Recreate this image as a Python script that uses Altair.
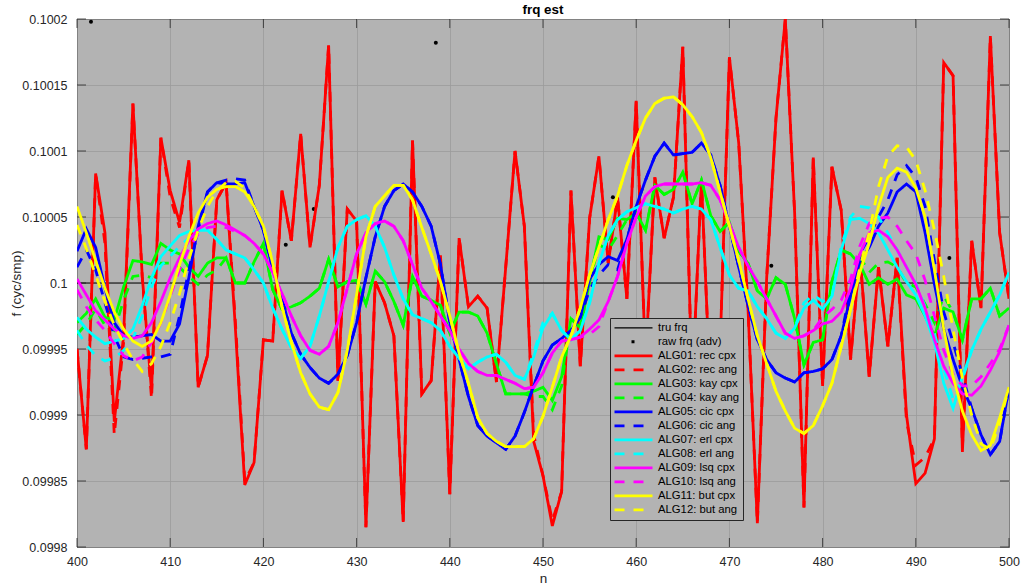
import altair as alt
import pandas as pd

# sample index
n = list(range(400, 501))

# nominal frequency and the unit the estimates are stored in
F_TRUE = 0.1
UNIT = 1e-5  # offsets below are (f - 0.1) / 1e-5

# ALG01 rec cpx
rec_cpx = [
    -5.0, -12.6, 8.3, 3.8, -10.5, -4.0, 13.6, 0.5, -8.2, 11.0,      # 400
    7.0, 4.6, 9.3, -7.9, -5.5, 6.3, 7.6, -3.5, -15.3, -13.6,        # 410
    -4.3, -4.4, 7.0, 3.2, 11.3, 2.7, 7.4, 18.0, -7.4, 5.6,          # 420
    4.7, -18.5, 0.1, -1.5, -4.0, -18.1, 10.8, -8.4, -7.4, 2.1,      # 430
    -16.0, 3.4, -1.8, -1.0, -1.9, -7.5, 1.2, 10.0, 4.3, -12.0,      # 440
    -14.6, -18.4, -15.8, 7.0, -6.3, 4.9, 9.6, 1.5, 6.5, -1.2,       # 450
    13.8, -6.0, 8.0, 3.4, 6.5, 17.9, -8.0, 7.8, -9.0, -5.0,         # 460
    17.1, 10.6, -2.0, -18.2, 0.4, 12.5, 20.0, 5.3, -17.0, 9.5,      # 470
    -7.8, 8.8, 5.5, -5.8, 2.2, -7.1, 1.2, -4.8, 1.9, -10.0,         # 480
    -15.2, -14.4, -11.8, 16.7, 15.7, -12.8, 3.2, -1.9, 18.7, 3.8,   # 490
    -1.2,                                                           # 500
]
# ALG02 rec ang: samples where it departs from ALG01
rec_ang_diff = {403: 3.0, 404: -11.5, 405: -4.5, 408: -8.8, 410: 6.5, 411: 4.2,
                417: -3.0, 418: -15.0, 449: -11.5, 451: -18.0, 489: -10.5,
                490: -13.8, 491: -13.2, 495: -12.5}

# ALG03 kay cpx
kay_cpx = [
    -3.0, -2.3, -1.2, -2.6, -2.8, -0.3, 1.7, 1.6, 1.4, 3.0,
    2.5, 2.2, 1.2, 0.5, 1.5, 1.9, 1.9, 0.0, 0.0, 1.6,
    3.0, -0.5, -2.0, -1.8, -1.5, -1.0, -0.4, 1.8, -0.3, 0.1,
    0.2, -1.6, 0.9, 0.1, -1.4, -3.2, 0.5, -1.0, -1.3, -1.7,
    -3.8, -2.2, -2.2, -2.5, -3.8, -6.1, -8.4, -8.4, -8.4, -8.2,
    -7.9, -8.9, -7.1, -2.7, -3.4, 0.1, 3.5, 3.3, 4.9, 4.8,
    5.3, 4.0, 7.4, 6.7, 7.1, 8.4, 6.0, 7.8, 5.1, 3.9,
    4.6, 2.4, 1.5, -0.6, -1.2, 0.4, -0.1, -2.7, -6.2, -4.5,
    -4.3, 0.1, 2.5, 2.2, 1.4, -0.1, 0.4, -0.1, 0.3, -0.9,
    -1.2, -2.5, -4.0, -1.9, -2.2, -4.3, -1.2, -1.2, -0.4, -2.5,
    -1.9,
]
# ALG04 kay ang
kay_ang_diff = {400: -3.9, 401: -3.1, 402: -2.0, 403: -3.2, 404: -3.6, 405: -1.3,
                406: 0.5, 407: 0.6, 408: 0.4, 409: 1.5, 410: 1.5, 411: 1.2,
                412: 0.5, 413: -0.1, 414: 0.6, 415: 1.0, 449: -8.6, 450: -8.6,
                451: -9.6, 452: -7.8, 456: 2.9, 457: 2.5, 458: 3.6, 484: 2.0,
                485: 0.8, 486: 1.5, 487: 1.6, 488: 1.2, 489: 0.0, 490: -0.3,
                491: -1.6, 492: -3.0, 493: -1.0}

# ALG05 cic cpx
cic_cpx = [
    2.4, 4.1, 2.7, -0.4, -3.0, -4.0, -4.1, -4.0, -3.9, -4.4,
    -4.4, -3.1, 0.4, 4.3, 6.9, 7.6, 7.5, 7.5, 7.6, 5.8,
    4.0, 1.0, -1.2, -3.8, -5.4, -6.4, -7.2, -7.6, -6.9, -5.5,
    -3.0, 0.4, 3.5, 5.8, 7.0, 7.5, 6.9, 5.8, 4.3, 1.4,
    -3.0, -5.8, -8.6, -10.8, -11.6, -12.1, -12.6, -11.6, -9.8, -7.8,
    -5.9, -4.7, -4.2, -3.6, -2.6, 0.3, 1.4, 2.0, 1.7, 3.3,
    5.8, 7.8, 9.6, 10.6, 9.7, 9.8, 9.9, 10.6, 9.7, 7.4,
    4.3, 1.2, -1.7, -4.3, -5.8, -6.8, -7.2, -7.5, -6.8, -6.7,
    -6.5, -5.8, -4.0, -1.0, 1.7, 2.7, 4.3, 5.3, 6.9, 7.5,
    6.9, 3.8, -0.1, -3.5, -5.8, -7.9, -9.5, -11.5, -13.0, -12.0,
    -7.9,
]
# ALG06 cic ang
cic_ang_diff = {400: 1.2, 401: 2.5, 402: 1.0, 403: -1.5, 404: -4.0, 405: -5.6,
                406: -5.8, 407: -5.7, 408: -5.6, 409: -5.6, 410: -5.4, 411: -2.5,
                412: 1.0, 413: 4.0, 416: 7.8, 417: 7.9, 418: 7.8, 455: -0.5,
                456: 0.6, 457: 1.4, 458: 1.0, 483: -0.5, 484: 2.2, 485: 3.5,
                486: 5.0, 487: 6.3, 488: 8.2, 489: 8.9, 490: 8.0, 491: 5.8,
                492: 1.7, 493: -2.2, 494: -4.5, 495: -7.0}

# ALG07 erl cpx
erl_cpx = [
    -2.6, -3.5, -4.1, -4.6, -4.4, -4.2, -3.5, -1.7, 0.4, 2.0,
    2.8, 3.6, 3.9, 4.0, 4.0, 3.3, 2.5, 2.2, 1.9, 1.0,
    0.0, -1.9, -3.5, -4.9, -5.7, -4.8, -2.5, 0.1, 2.7, 4.3,
    4.8, 5.1, 4.3, 2.7, 0.6, -1.2, -2.4, -2.7, -3.0, -3.6,
    -4.8, -5.7, -6.5, -6.0, -5.6, -5.4, -6.0, -7.0, -7.3, -5.6,
    -3.4, -2.3, -3.6, -4.3, -3.6, -1.5, 1.5, 3.6, 4.8, 5.4,
    5.7, 6.0, 5.8, 5.6, 5.3, 5.6, 5.8, 5.6, 4.8, 2.7,
    0.6, -0.4, -0.6, -1.8, -2.7, -3.8, -4.2, -3.4, -1.9, -1.3,
    -2.0, -1.0, 2.5, 4.8, 4.9, 4.5, 3.8, 2.5, 1.2, 0.1,
    -0.9, -2.5, -4.5, -7.6, -9.5, -7.1, -5.1, -3.5, -2.2, -0.9,
    0.8,
]
# ALG08 erl ang
erl_ang_diff = {400: -3.6, 401: -4.7, 402: -5.5, 403: -5.9, 404: -5.7, 405: -5.1,
                406: -4.2, 407: -2.5, 408: -0.3, 409: 1.3, 410: 2.0, 411: 2.8,
                412: 3.4, 449: -5.3, 450: -3.0, 478: -1.5, 479: -0.9, 480: -1.4,
                482: 2.8, 483: 5.0, 484: 5.8, 485: 5.7, 486: 5.0, 487: 3.8,
                488: 2.5, 489: 1.2, 490: 0.0, 491: -1.8, 492: -3.8, 493: -6.5,
                494: -8.8, 495: -7.3}

# ALG09 lsq cpx
lsq_cpx = [
    0.3, -0.9, -2.1, -2.8, -3.5, -4.0, -4.2, -4.0, -3.0, -1.4,
    0.4, 1.9, 3.2, 4.1, 4.5, 4.7, 4.4, 4.0, 3.6, 3.0,
    2.2, 0.8, -0.8, -2.5, -4.0, -5.1, -5.4, -4.8, -3.0, -0.4,
    2.2, 3.8, 4.5, 4.7, 4.3, 3.2, 1.4, -0.4, -1.4, -2.5,
    -3.6, -5.0, -6.1, -6.7, -7.0, -7.0, -7.3, -7.6, -8.0, -7.9,
    -6.8, -5.3, -4.4, -4.3, -4.1, -3.5, -2.8, -1.4, 0.5, 3.0,
    5.0, 6.6, 7.3, 7.5, 7.5, 7.5, 7.5, 7.6, 7.4, 6.3,
    4.5, 2.7, 1.3, 0.1, -1.2, -2.5, -3.8, -4.2, -4.0, -3.6,
    -3.1, -2.9, -2.2, -0.4, 2.2, 3.8, 4.0, 3.5, 2.5, 1.2,
    -0.1, -1.9, -4.3, -6.3, -7.6, -8.4, -8.5, -7.8, -6.6, -5.2,
    -3.2,
]
# ALG10 lsq ang
lsq_ang_diff = {400: -0.5, 401: -1.8, 402: -2.8, 403: -3.6, 404: -4.6, 405: -5.5,
                406: -5.9, 407: -5.6, 408: -4.5, 409: -3.0, 410: -1.0, 411: 1.0,
                412: 2.6, 413: 3.7, 414: 4.2, 415: 4.3, 416: 4.2, 417: 3.9,
                455: -3.9, 456: -3.3, 480: -2.6, 481: -2.0, 482: -1.3, 483: 0.3,
                484: 2.8, 485: 4.5, 486: 4.9, 487: 5.0, 488: 4.3, 489: 3.2,
                490: 2.2, 491: 0.2, 492: -2.5, 493: -5.1, 494: -6.9, 495: -7.8,
                496: -7.8, 497: -7.1, 498: -6.1, 499: -5.0}

# ALG11 but cpx
but_cpx = [
    5.8, 3.8, 1.7, -0.4, -2.2, -3.5, -4.4, -4.8, -4.4, -3.0,
    -0.9, 1.4, 3.5, 5.3, 6.5, 7.1, 7.3, 7.3, 6.9, 5.8,
    4.3, 1.5, -1.8, -4.5, -6.8, -8.4, -9.4, -9.6, -8.3, -5.1,
    -0.9, 3.5, 5.8, 6.6, 7.4, 7.4, 6.3, 4.2, 2.2, 0.1,
    -2.5, -5.3, -7.6, -10.2, -11.4, -12.0, -12.4, -12.4, -12.4, -11.8,
    -10.1, -7.9, -5.6, -4.0, -1.9, 0.6, 2.7, 4.8, 6.6, 8.9,
    10.8, 12.5, 13.6, 14.0, 14.1, 13.5, 12.6, 11.4, 9.5, 6.9,
    4.3, 1.7, -1.2, -4.0, -6.1, -8.2, -9.7, -11.0, -11.4, -10.8,
    -9.3, -7.6, -4.8, -2.0, 0.8, 3.0, 5.8, 8.0, 8.7, 8.4,
    7.2, 5.0, 1.0, -3.5, -7.1, -9.7, -11.5, -12.7, -12.3, -10.2,
    -7.9,
]
# ALG12 but ang
but_ang_diff = {400: 4.4, 401: 2.6, 402: 0.6, 403: -1.4, 404: -3.2, 405: -4.6,
                406: -5.8, 407: -6.7, 408: -6.1, 409: -4.8, 410: -3.0, 411: -0.8,
                412: 1.8, 413: 4.0, 414: 5.8, 415: 7.0, 416: 7.6, 417: 7.7,
                418: 7.2, 484: 1.2, 485: 3.8, 486: 7.3, 487: 9.6, 488: 10.4,
                489: 10.3, 490: 9.3, 491: 7.0, 492: 4.0, 493: 0.5, 494: -3.5,
                495: -7.2, 496: -10.0, 497: -12.2, 498: -12.6, 499: -10.6}

# raw frequency samples that fall inside the view
raw_n = [401.5, 422.4, 425.4, 438.5, 457.5, 474.5, 493.6]
raw_dev = [19.8, 2.9, 5.6, 18.2, 6.5, 1.3, 1.9]

x_ticks = list(range(400, 501, 10))
y_ticks = [0.0998, 0.09985, 0.0999, 0.09995, 0.1, 0.10005, 0.1001, 0.10015, 0.1002]

SERIES = ["tru frq", "raw frq (adv)",
          "ALG01: rec cpx", "ALG02: rec ang", "ALG03: kay cpx", "ALG04: kay ang",
          "ALG05: cic cpx", "ALG06: cic ang", "ALG07: erl cpx", "ALG08: erl ang",
          "ALG09: lsq cpx", "ALG10: lsq ang", "ALG11: but cpx", "ALG12: but ang"]
COLORS = ["#000000", "#000000",
          "#ff0000", "#ff0000", "#00ff00", "#00ff00", "#0000ff", "#0000ff",
          "#00ffff", "#00ffff", "#ff00ff", "#ff00ff", "#ffff00", "#ffff00"]
SOLID, DASH, DOT = [1, 0], [10, 9], [0, 17, 3, 40]
DASHES = [SOLID, DOT] + [SOLID, DASH] * 6
WIDTHS = [1.2, 3.0] + [2.8] * 12


def with_diff(base, diff):
    return [diff.get(k, v) for k, v in zip(n, base)]


algs = [
    (SERIES[2], rec_cpx), (SERIES[3], with_diff(rec_cpx, rec_ang_diff)),
    (SERIES[4], kay_cpx), (SERIES[5], with_diff(kay_cpx, kay_ang_diff)),
    (SERIES[6], cic_cpx), (SERIES[7], with_diff(cic_cpx, cic_ang_diff)),
    (SERIES[8], erl_cpx), (SERIES[9], with_diff(erl_cpx, erl_ang_diff)),
    (SERIES[10], lsq_cpx), (SERIES[11], with_diff(lsq_cpx, lsq_ang_diff)),
    (SERIES[12], but_cpx), (SERIES[13], with_diff(but_cpx, but_ang_diff)),
]
for name, dev in algs:
    assert len(dev) == len(n), name

rows = []
for name, dev in algs:
    for k, d in zip(n, dev):
        rows.append({"n": k, "f": round(F_TRUE + d * UNIT, 9), "series": name})
alg_df = pd.DataFrame(rows)
tru_df = pd.DataFrame({"n": [400, 500], "f": [F_TRUE, F_TRUE], "series": ["tru frq"] * 2})
raw_df = pd.DataFrame({"n": raw_n, "f": [round(F_TRUE + d * UNIT, 9) for d in raw_dev]})

W, H = 932, 528
FONT = "Liberation Sans"
INK = "#262626"
GRID = "#9a9a9a"
BG = "#b3b3b3"
TICK = 9

x_scale = alt.Scale(domain=[400, 500], nice=False, zero=False)
y_scale = alt.Scale(domain=[0.0998, 0.1002], nice=False, zero=False)
x_axis = alt.Axis(values=x_ticks, format="d", title="n", grid=True, gridColor=GRID,
                  gridWidth=0.8, ticks=False, domain=False, labelPadding=8,
                  labelFlush=False, labelOverlap=False,
                  labelFont=FONT, labelFontSize=12.5, labelColor=INK,
                  titleFont=FONT, titleFontSize=13.5, titleFontWeight="normal",
                  titleColor=INK, titleY=35, titleBaseline="alphabetic")
y_axis = alt.Axis(values=y_ticks, format="~g", title="f (cyc/smp)", grid=True,
                  gridColor=GRID, gridWidth=0.8, ticks=False, domain=False,
                  labelPadding=10, labelFlush=False, labelOverlap=False,
                  labelFont=FONT, labelFontSize=12.5, labelColor=INK,
                  titleFont=FONT, titleFontSize=13.5, titleFontWeight="normal",
                  titleColor=INK, titleX=-57, titleY=H / 2, titleAngle=270,
                  titleAlign="center", titleBaseline="alphabetic")

legend = alt.Legend(orient="none", legendX=533, legendY=299, title=None,
                    fillColor=BG, strokeColor=INK, padding=3, symbolType="stroke",
                    symbolSize=1444, clipHeight=13.7,
                    rowPadding=0, labelFont=FONT, labelFontSize=11.3,
                    labelColor="black", labelOffset=4, symbolLimit=0)
color = alt.Color("series:N", scale=alt.Scale(domain=SERIES, range=COLORS), legend=legend)
dash = alt.StrokeDash("series:N", scale=alt.Scale(domain=SERIES, range=DASHES), legend=legend)
width = alt.StrokeWidth("series:N",
                        scale=alt.Scale(type="ordinal", domain=SERIES, range=WIDTHS),
                        legend=legend)

X = alt.X("n:Q", scale=x_scale, axis=x_axis)
Y = alt.Y("f:Q", scale=y_scale, axis=y_axis)

# inward tick marks on all four sides of the box
ytick_df = pd.DataFrame({"f": y_ticks})
xtick_df = pd.DataFrame({"n": x_ticks})
tick_left = alt.Chart(ytick_df).mark_rule(color=INK, strokeWidth=0.8).encode(
    y=Y, x=alt.value(0), x2=alt.value(TICK))
tick_right = alt.Chart(ytick_df).mark_rule(color=INK, strokeWidth=0.8).encode(
    y=Y, x=alt.value(W - TICK), x2=alt.value(W))
tick_bottom = alt.Chart(xtick_df).mark_rule(color=INK, strokeWidth=0.8).encode(
    x=X, y=alt.value(H - TICK), y2=alt.value(H))
tick_top = alt.Chart(xtick_df).mark_rule(color=INK, strokeWidth=0.8).encode(
    x=X, y=alt.value(0), y2=alt.value(TICK))

tru = alt.Chart(tru_df).mark_line(clip=True).encode(
    x=X, y=Y, color=color, strokeDash=dash, strokeWidth=width)
raw = alt.Chart(raw_df).mark_circle(size=16, color="black", opacity=1, clip=True).encode(
    x=X, y=Y)
lines = alt.Chart(alg_df).mark_line(clip=True).encode(
    x=X, y=Y, color=color, strokeDash=dash, strokeWidth=width)

chart = alt.layer(tick_left, tick_right, tick_bottom, tick_top, tru, raw, lines).properties(
    width=W, height=H,
    title=alt.TitleParams("frq est", font=FONT, fontSize=13.4, fontWeight="bold",
                          color="black", anchor="middle", offset=4, dy=7),
    autosize=alt.AutoSizeParams(type="none"),
    padding={"left": 77, "top": 19, "right": 12, "bottom": 39},
).configure_view(fill=BG, stroke=INK, strokeWidth=1)

chart.save("out.html", embed_options={"renderer": "svg", "actions": False})
